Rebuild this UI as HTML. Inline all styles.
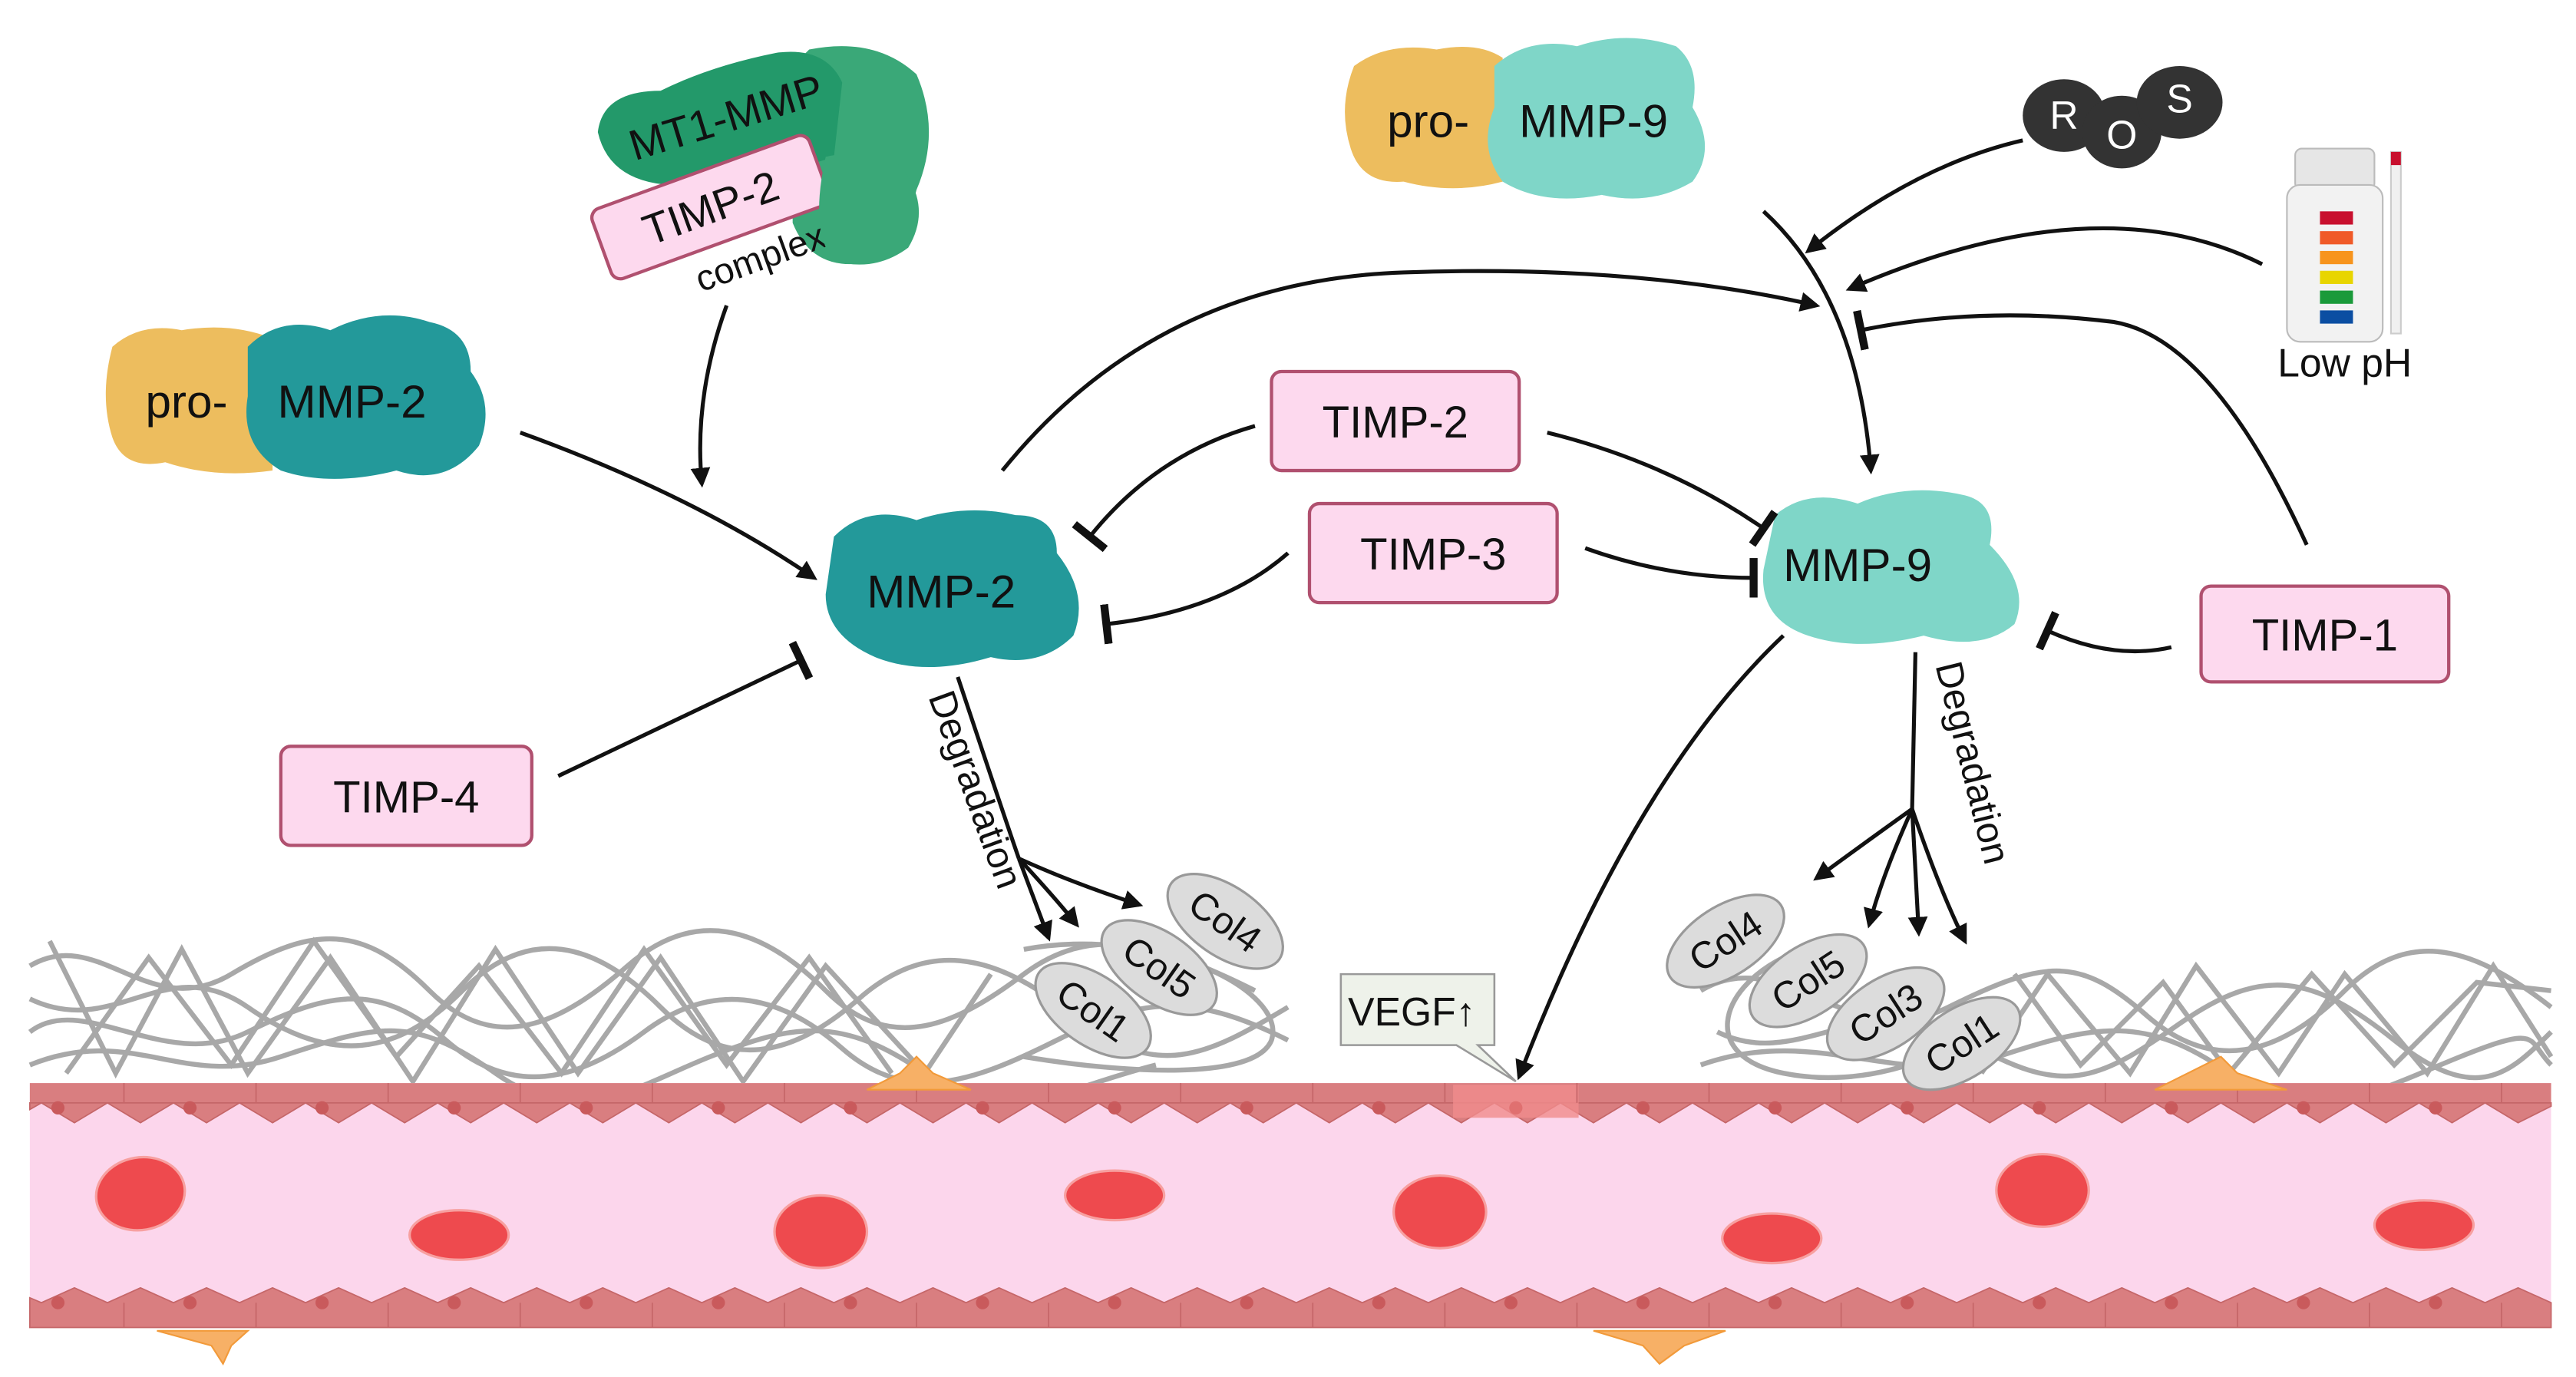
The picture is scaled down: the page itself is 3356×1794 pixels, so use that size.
<!DOCTYPE html>
<html><head><meta charset="utf-8"><style>
html,body{margin:0;padding:0;background:#fff}
svg{display:block}
text{font-family:"Liberation Sans",sans-serif;fill:#111}
</style></head><body>
<svg width="3356" height="1794" viewBox="0 0 1560 834" xmlns="http://www.w3.org/2000/svg">
<defs>
<marker id="ar" viewBox="0 0 10 10" refX="8" refY="5" markerWidth="5" markerHeight="5" orient="auto-start-reverse"><path d="M0,0 L10,5 L0,10 z" fill="#111"/></marker>
<marker id="tb" viewBox="0 0 4 20" refX="2" refY="10" markerWidth="2.5" markerHeight="10" orient="auto"><rect x="0" y="0" width="4" height="20" fill="#111"/></marker>
</defs>
<rect width="1560" height="834" fill="#fff"/>

<!-- ECM mesh -->
<g fill="none" stroke="#9a9a9a" stroke-width="3" opacity="0.85">
<path d="M18,585 C60,560 90,620 140,590 S220,560 260,600 S340,620 380,585 S460,560 500,600 S580,620 620,590 S700,570 760,600"/>
<path d="M18,605 C70,630 100,575 150,610 S240,640 280,600 S360,570 400,610 S480,640 520,605 S600,575 650,615 S730,640 780,610"/>
<path d="M18,625 C50,600 100,650 150,625 S230,595 270,630 S350,655 390,625 S470,600 510,635 S590,655 640,630 S720,600 780,630"/>
<path d="M18,645 C80,620 110,660 170,640 S250,615 300,650 S380,660 430,640 S510,615 560,650 S640,660 700,645"/>
<path d="M30,570 L70,650 L110,575 L150,650 L200,580 L250,655 L300,575 L350,650 L400,580 L450,655 L500,585 L560,650 L600,590"/>
<path d="M40,650 L90,580 L140,645 L190,570 L240,640 L290,585 L340,650 L390,575 L440,645 L490,580 L540,650"/>
<path d="M1030,600 C1080,570 1120,640 1180,610 S1260,580 1300,615 S1380,640 1420,600 S1500,575 1545,610"/>
<path d="M1040,625 C1090,650 1130,595 1190,630 S1270,655 1320,620 S1400,590 1450,630 S1520,650 1545,625"/>
<path d="M1030,645 C1100,620 1150,660 1210,640 S1300,615 1350,650 S1440,660 1490,640 S1530,630 1545,645"/>
<path d="M1200,650 L1240,590 L1290,650 L1330,585 L1380,650 L1420,590 L1470,650 L1510,585 L1545,640"/>
<path d="M1220,590 L1260,645 L1310,595 L1350,650 L1400,590 L1450,645 L1500,595 L1545,600"/>
<path d="M620,575 C700,560 780,600 770,630 C760,655 680,650 620,640"/>
<path d="M1080,580 C1040,600 1030,640 1080,650 C1130,660 1180,640 1200,620"/>
</g>

<!-- vessel -->
<rect x="18" y="656" width="1527" height="148" fill="#fcd6ec"/>
<rect x="18" y="656" width="1527" height="12" fill="#d97e80"/>
<g fill="#d97e80" stroke="#c56668" stroke-width="0.8">
<path d="M18,668 L1545,668 L1545,670 L1525,680 L1505,668 L1485,680 L1465,668 L1445,680 L1425,668 L1405,680 L1385,668 L1365,680 L1345,668 L1325,680 L1305,668 L1285,680 L1265,668 L1245,680 L1225,668 L1205,680 L1185,668 L1165,680 L1145,668 L1125,680 L1105,668 L1085,680 L1065,668 L1045,680 L1025,668 L1005,680 L985,668 L965,680 L945,668 L925,680 L905,668 L885,680 L865,668 L845,680 L825,668 L805,680 L785,668 L765,680 L745,668 L725,680 L705,668 L685,680 L665,668 L645,680 L625,668 L605,680 L585,668 L565,680 L545,668 L525,680 L505,668 L485,680 L465,668 L445,680 L425,668 L405,680 L385,668 L365,680 L345,668 L325,680 L305,668 L285,680 L265,668 L245,680 L225,668 L205,680 L185,668 L165,680 L145,668 L125,680 L105,668 L85,680 L65,668 L45,680 L25,668 L18,672 Z"/>
<path d="M18,804 L1545,804 L1545,789 L1525,780 L1505,789 L1485,780 L1465,789 L1445,780 L1425,789 L1405,780 L1385,789 L1365,780 L1345,789 L1325,780 L1305,789 L1285,780 L1265,789 L1245,780 L1225,789 L1205,780 L1185,789 L1165,780 L1145,789 L1125,780 L1105,789 L1085,780 L1065,789 L1045,780 L1025,789 L1005,780 L985,789 L965,780 L945,789 L925,780 L905,789 L885,780 L865,789 L845,780 L825,789 L805,780 L785,789 L765,780 L745,789 L725,780 L705,789 L685,780 L665,789 L645,780 L625,789 L605,780 L585,789 L565,780 L545,789 L525,780 L505,789 L485,780 L465,789 L445,780 L425,789 L405,780 L385,789 L365,780 L345,789 L325,780 L305,789 L285,780 L265,789 L245,780 L225,789 L205,780 L185,789 L165,780 L145,789 L125,780 L105,789 L85,780 L65,789 L45,780 L25,789 L18,786 Z"/>
</g>
<rect x="880" y="657" width="76" height="20" fill="#f08c8c" opacity="0.8"/>
<g stroke="#c56668" stroke-width="0.8">
<path d="M75,656v12M155,656v12M235,656v12M315,656v12M395,656v12M475,656v12M555,656v12M635,656v12M715,656v12M795,656v12M875,656v12M955,656v12M1035,656v12M1115,656v12M1195,656v12M1275,656v12M1355,656v12M1435,656v12M1515,656v12"/>
<path d="M75,789v15M155,789v15M235,789v15M315,789v15M395,789v15M475,789v15M555,789v15M635,789v15M715,789v15M795,789v15M875,789v15M955,789v15M1035,789v15M1115,789v15M1195,789v15M1275,789v15M1355,789v15M1435,789v15M1515,789v15"/>
</g>
<g fill="#c95a5c">
<circle cx="35" cy="671" r="4"/><circle cx="115" cy="671" r="4"/><circle cx="195" cy="671" r="4"/><circle cx="275" cy="671" r="4"/><circle cx="355" cy="671" r="4"/><circle cx="435" cy="671" r="4"/><circle cx="515" cy="671" r="4"/><circle cx="595" cy="671" r="4"/><circle cx="675" cy="671" r="4"/><circle cx="755" cy="671" r="4"/><circle cx="835" cy="671" r="4"/><circle cx="918" cy="671" r="4" fill="#e07070"/><circle cx="995" cy="671" r="4"/><circle cx="1075" cy="671" r="4"/><circle cx="1155" cy="671" r="4"/><circle cx="1235" cy="671" r="4"/><circle cx="1315" cy="671" r="4"/><circle cx="1395" cy="671" r="4"/><circle cx="1475" cy="671" r="4"/>
<circle cx="35" cy="789" r="4"/><circle cx="115" cy="789" r="4"/><circle cx="195" cy="789" r="4"/><circle cx="275" cy="789" r="4"/><circle cx="355" cy="789" r="4"/><circle cx="435" cy="789" r="4"/><circle cx="515" cy="789" r="4"/><circle cx="595" cy="789" r="4"/><circle cx="675" cy="789" r="4"/><circle cx="755" cy="789" r="4"/><circle cx="835" cy="789" r="4"/><circle cx="915" cy="789" r="4"/><circle cx="995" cy="789" r="4"/><circle cx="1075" cy="789" r="4"/><circle cx="1155" cy="789" r="4"/><circle cx="1235" cy="789" r="4"/><circle cx="1315" cy="789" r="4"/><circle cx="1395" cy="789" r="4"/><circle cx="1475" cy="789" r="4"/>
</g>
<!-- pericytes -->
<g fill="#f7b066" stroke="#f29a3a" stroke-width="1">
<path d="M525,660 L545,650 L555,640 L565,650 L588,660 Z"/>
<path d="M1305,660 L1325,650 L1345,640 L1355,650 L1385,660 Z"/>
<path d="M95,806 L125,806 L150,806 L140,815 L135,826 L128,815 Z"/>
<path d="M965,806 L1000,806 L1045,806 L1020,815 L1005,826 L995,815 Z"/>
</g>
<!-- RBCs -->
<g fill="#ee4a4e" stroke="#f7a0a0" stroke-width="1.5">
<ellipse cx="85" cy="723" rx="27" ry="22" transform="rotate(-10 85 723)"/>
<ellipse cx="278" cy="748" rx="30" ry="15"/>
<ellipse cx="497" cy="746" rx="28" ry="22"/>
<ellipse cx="675" cy="724" rx="30" ry="15"/>
<ellipse cx="872" cy="734" rx="28" ry="22"/>
<ellipse cx="1073" cy="750" rx="30" ry="15"/>
<ellipse cx="1237" cy="721" rx="28" ry="22"/>
<ellipse cx="1468" cy="742" rx="30" ry="15"/>
</g>

<!-- Collagen ellipses -->
<g fill="#dcdcdc" stroke="#999" stroke-width="1.5">
<ellipse cx="742" cy="558" rx="40" ry="21" transform="rotate(35 742 558)"/>
<ellipse cx="702" cy="586" rx="40" ry="21" transform="rotate(35 702 586)"/>
<ellipse cx="662" cy="612" rx="40" ry="21" transform="rotate(35 662 612)"/>
<ellipse cx="1045" cy="570" rx="40" ry="21" transform="rotate(-33 1045 570)"/>
<ellipse cx="1095" cy="594" rx="40" ry="21" transform="rotate(-33 1095 594)"/>
<ellipse cx="1142" cy="614" rx="40" ry="21" transform="rotate(-33 1142 614)"/>
<ellipse cx="1188" cy="632" rx="40" ry="21" transform="rotate(-33 1188 632)"/>
</g>
<g font-size="23" text-anchor="middle">
<text x="742" y="566" transform="rotate(35 742 558)">Col4</text>
<text x="702" y="594" transform="rotate(35 702 586)">Col5</text>
<text x="662" y="620" transform="rotate(35 662 612)">Col1</text>
<text x="1045" y="578" transform="rotate(-33 1045 570)">Col4</text>
<text x="1095" y="602" transform="rotate(-33 1095 594)">Col5</text>
<text x="1142" y="622" transform="rotate(-33 1142 614)">Col3</text>
<text x="1188" y="640" transform="rotate(-33 1188 632)">Col1</text>
</g>

<!-- VEGF -->
<path d="M812,590 L905,590 L905,633 L895,633 L918,655 L882,633 L812,633 Z" fill="#eef2ea" stroke="#999" stroke-width="1.2"/>
<text x="855" y="621" font-size="24" text-anchor="middle">VEGF↑</text>

<!-- pro-MMP-2 -->
<path d="M68,210 Q85,195 110,200 Q140,195 165,205 L165,285 Q130,290 100,280 Q75,285 68,265 Q60,240 68,210Z" fill="#edbd5e"/>
<path d="M150,210 Q170,190 200,200 Q230,185 260,195 Q285,200 285,225 Q300,245 290,270 Q270,295 240,285 Q200,295 170,285 Q145,270 150,240 Z" fill="#23999a"/>
<text x="88" y="253" font-size="28">pro-</text>
<text x="168" y="253" font-size="28">MMP-2</text>
<!-- MT1-MMP complex -->
<path d="M490,30 Q530,22 555,45 Q570,80 555,115 Q545,155 515,160 Q490,160 480,135 L480,40 Z" fill="#3aa878"/>
<path d="M362,80 Q365,55 400,55 Q430,40 470,32 Q500,28 510,50 L505,95 Q460,110 420,112 Q370,115 362,80 Z" fill="#23996a"/>
<text x="440" y="80" font-size="26" text-anchor="middle" transform="rotate(-17 440 72)">MT1-MMP</text>
<g transform="rotate(-20 430 125)">
<rect x="360" y="103" width="140" height="45" rx="6" fill="#fdd9ee" stroke="#b0506f" stroke-width="2"/>
<text x="430" y="135" font-size="26" text-anchor="middle">TIMP-2</text>
<text x="448" y="172" font-size="22" text-anchor="middle">complex</text>
</g>
<path d="M500,95 Q520,90 545,100 Q565,125 550,150 Q530,165 505,158 Q490,140 500,95Z" fill="#3aa878"/>
<!-- MMP-2 -->
<path d="M505,325 Q525,305 555,315 Q585,305 615,312 Q640,312 640,335 Q660,360 650,385 Q630,405 600,398 Q560,410 530,398 Q500,385 500,360 Z" fill="#23999a"/>
<text x="570" y="368" font-size="28" text-anchor="middle">MMP-2</text>
<!-- pro-MMP-9 -->
<path d="M820,40 Q840,25 870,30 Q895,25 910,35 L910,110 Q880,118 850,110 Q825,112 818,90 Q810,65 820,40Z" fill="#edbd5e"/>
<path d="M905,40 Q925,22 955,28 Q985,18 1015,28 Q1030,40 1025,65 Q1040,90 1025,110 Q1000,125 970,118 Q935,125 910,110 Q895,90 905,65 Z" fill="#7fd6c8"/>
<text x="840" y="83" font-size="28">pro-</text>
<text x="920" y="83" font-size="28">MMP-9</text>
<!-- MMP-9 -->
<path d="M1075,312 Q1095,295 1125,305 Q1155,292 1190,300 Q1210,305 1205,330 Q1230,355 1220,378 Q1200,395 1165,385 Q1125,395 1095,385 Q1065,375 1068,345 Z" fill="#7fd6c8"/>
<text x="1125" y="352" font-size="28" text-anchor="middle">MMP-9</text>
<!-- ROS -->
<g fill="#333">
<ellipse cx="1250" cy="70" rx="25" ry="22"/><ellipse cx="1285" cy="80" rx="24" ry="22"/><ellipse cx="1320" cy="62" rx="26" ry="22"/>
</g>
<text x="1250" y="78" font-size="24" text-anchor="middle" style="fill:#fff">R</text>
<text x="1285" y="90" font-size="24" text-anchor="middle" style="fill:#fff">O</text>
<text x="1320" y="68" font-size="24" text-anchor="middle" style="fill:#fff">S</text>
<!-- pH vial -->
<rect x="1390" y="90" width="48" height="25" rx="4" fill="#e6e6e6" stroke="#bbb"/>
<rect x="1385" y="112" width="58" height="95" rx="8" fill="#f2f2f2" stroke="#bbb"/>
<rect x="1405" y="128" width="20" height="8" fill="#c8102e"/>
<rect x="1405" y="140" width="20" height="8" fill="#f05a28"/>
<rect x="1405" y="152" width="20" height="8" fill="#f7941d"/>
<rect x="1405" y="164" width="20" height="8" fill="#e8d500"/>
<rect x="1405" y="176" width="20" height="8" fill="#1a9a3a"/>
<rect x="1405" y="188" width="20" height="8" fill="#0b4ea2"/>
<rect x="1448" y="92" width="6" height="110" fill="#f0f0f0" stroke="#ccc"/>
<rect x="1448" y="92" width="6" height="8" fill="#c8102e"/>
<text x="1420" y="228" font-size="24" text-anchor="middle">Low pH</text>

<!-- TIMP boxes -->
<g fill="#fdd9ee" stroke="#b0506f" stroke-width="2">
<rect x="770" y="225" width="150" height="60" rx="6"/>
<rect x="793" y="305" width="150" height="60" rx="6"/>
<rect x="170" y="452" width="152" height="60" rx="6"/>
<rect x="1333" y="355" width="150" height="58" rx="6"/>
</g>
<g font-size="27" text-anchor="middle">
<text x="845" y="265">TIMP-2</text>
<text x="868" y="345">TIMP-3</text>
<text x="246" y="492">TIMP-4</text>
<text x="1408" y="394">TIMP-1</text>
</g>

<!-- connectors -->
<g fill="none" stroke="#111" stroke-width="2.4">
<path d="M440,185 Q420,240 425,293" marker-end="url(#ar)"/>
<path d="M315,262 Q420,300 493,350" marker-end="url(#ar)"/>
<path d="M338,470 L485,400" marker-end="url(#tb)"/>
<path d="M760,258 Q700,275 660,325" marker-end="url(#tb)"/>
<path d="M780,335 Q740,370 670,378" marker-end="url(#tb)"/>
<path d="M937,262 Q1010,280 1068,320" marker-end="url(#tb)"/>
<path d="M960,332 Q1010,350 1062,350" marker-end="url(#tb)"/>
<path d="M1315,392 Q1280,400 1240,382" marker-end="url(#tb)"/>
<path d="M1397,330 Q1340,205 1280,195 Q1200,185 1127,200" marker-end="url(#tb)"/>
<path d="M607,285 Q700,170 850,165 Q990,160 1100,185" marker-end="url(#ar)"/>
<path d="M1068,128 Q1125,180 1133,285" marker-end="url(#ar)"/>
<path d="M1225,85 Q1160,100 1095,152" marker-end="url(#ar)"/>
<path d="M1370,160 Q1270,110 1120,175" marker-end="url(#ar)"/>
<path d="M1080,385 Q990,470 920,652" marker-end="url(#ar)"/>
<path d="M580,410 Q610,500 617,520"/>
<path d="M617,520 L635,568" marker-end="url(#ar)"/>
<path d="M617,520 Q640,545 652,560" marker-end="url(#ar)"/>
<path d="M617,520 Q650,535 690,548" marker-end="url(#ar)"/>
<path d="M1160,395 L1158,490"/>
<path d="M1158,490 Q1130,510 1100,532" marker-end="url(#ar)"/>
<path d="M1158,490 Q1140,530 1132,560" marker-end="url(#ar)"/>
<path d="M1158,490 Q1160,530 1162,565" marker-end="url(#ar)"/>
<path d="M1158,490 Q1175,540 1190,570" marker-end="url(#ar)"/>
</g>
<text x="0" y="0" font-size="23" transform="translate(562,422) rotate(70)">Degradation</text>
<text x="0" y="0" font-size="23" transform="translate(1172,403) rotate(76)">Degradation</text>
</svg>
</body></html>
